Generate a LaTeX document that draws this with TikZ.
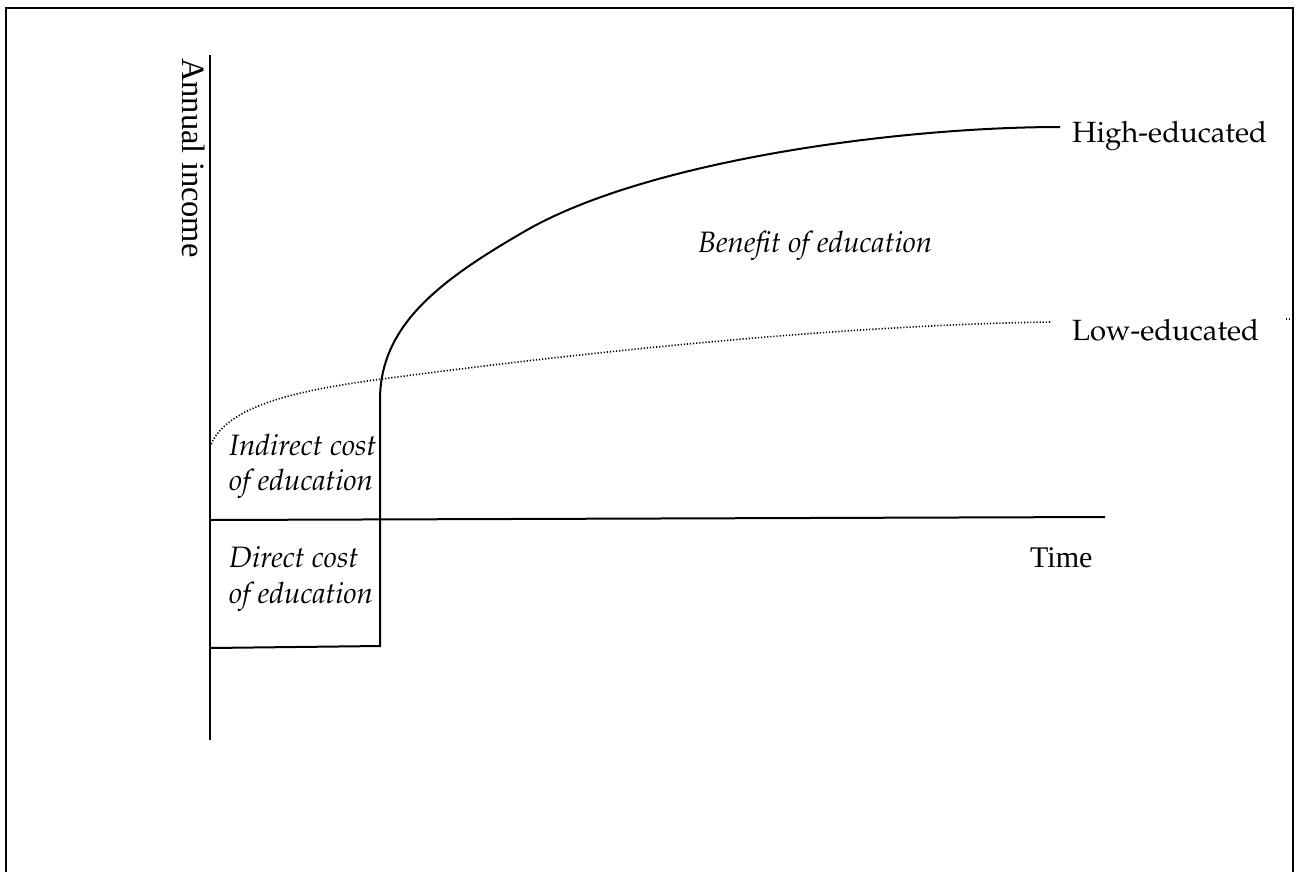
\documentclass[tikz,border=0pt]{standalone}
\usepackage[T1]{fontenc}
\usepackage{fontspec}
\setmainfont{Liberation Serif}
\newcommand\palfont{\fontencoding{T1}\fontfamily{ppl}\selectfont}
\begin{document}
\begin{tikzpicture}[x=1pt,y=-1pt,
  axisline/.style={line width=2pt},
  curveline/.style={line width=2pt},
  dotline/.style={line width=1.6pt,dash pattern=on 1.2pt off 1.9pt},
  lbl/.style={inner sep=0pt,anchor=base west,font=\fontsize{30}{36}\selectfont},
  pal/.style={inner sep=0pt,anchor=base west,font=\palfont\fontsize{29.3}{35}\selectfont},
  palit/.style={inner sep=0pt,anchor=base west,font=\palfont\itshape\fontsize{29.5}{35}\selectfont}]
\useasboundingbox (0,0) rectangle (1301,871);
% frame
\draw[line width=2.4pt] (6,880) -- (6,8) -- (1293,8) -- (1293,880);
% axes
\coordinate (ytop) at (210,55);
\coordinate (ybot) at (210,740);
\coordinate (xleft) at (210,520);
\coordinate (xright) at (1105,517);
\draw[axisline] (ytop) -- (ybot);
\draw[axisline] (xleft) -- (xright);
% direct cost box
\coordinate (bl) at (210,648);
\coordinate (br) at (380,646);
\coordinate (cs) at (380,400);
\draw[axisline] (bl) -- (br) -- (cs);
% high-educated curve
\coordinate (hm) at (527,230);
\coordinate (he) at (1060,127);
\draw[curveline] (cs) .. controls (380,325) and (440,280) .. (hm)
  .. controls (650,160) and (900,127) .. (he);
% low-educated curve
\coordinate (ls) at (210,447);
\coordinate (lm) at (382,379);
\coordinate (le) at (1050,322);
\draw[dotline] (ls) .. controls (225,405) and (300,390) .. (lm)
  .. controls (600,350) and (850,325) .. (le);
\coordinate (s1) at (1286,319);
\coordinate (s2) at (1291,319);
\draw[dotline] (s1) -- (s2);
% labels
\node[lbl,rotate=-90,font=\fontsize{32.5}{38}\selectfont] (yl) at (182,58) {Annual income};
\node[lbl] (tl) at (1030,567) {Time};
\node[pal] (hi) at (1072,142) {High-educated};
\node[pal] (lo) at (1072,340) {Low-educated};
\node[palit] (ben) at (698,252) {Benefit of education};
\node[palit] (ind1) at (229,455) {Indirect cost};
\node[palit] (ind2) at (229,490) {of education};
\node[palit] (dir1) at (229,567) {Direct cost};
\node[palit] (dir2) at (229,603) {of education};
\end{tikzpicture}
\end{document}
